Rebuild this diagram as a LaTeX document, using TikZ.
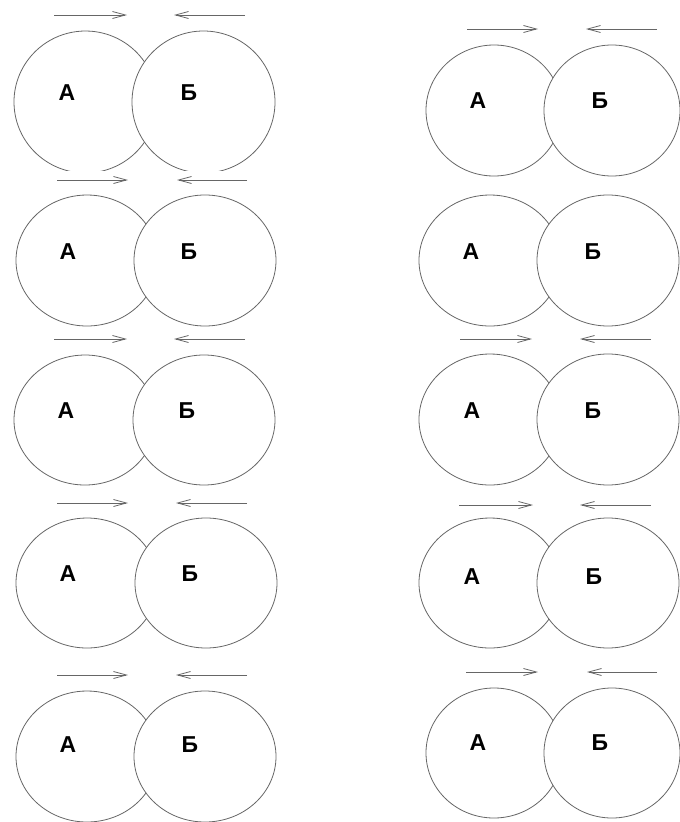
\documentclass[tikz,border=0pt]{standalone}
\usepackage{fontspec}
\setmainfont{Liberation Sans}
\usetikzlibrary{arrows.meta}
\tikzset{
  rim/.style={draw=black!60,line width=0.8pt},
  push/.style={black!60,line width=0.8pt,-{Straight Barb[length=13pt,width=7pt]}},
  lbl/.style={inner sep=0pt,font=\fontsize{23}{23}\selectfont\bfseries}
}
\begin{document}
\begin{tikzpicture}[x=1pt,y=-1pt]
\useasboundingbox (0,0) rectangle (680,822);
% pairs: name / centre A / centre B / centre y / radii / cut / labels
\foreach \n/\xa/\xb/\cy/\rx/\ry/\yc/\la/\lb/\ly in {
  L1/85.5/203.5/102/71.5/71/170/67/189/93,
  L2/87/205/260.5/71/65.5/830/68/189/252,
  L3/85/204/420/71/65/830/66/187/411,
  L4/87/206/583/71/65/830/68/190/574,
  L5/87/205/756.5/71/65.5/830/68/190/745,
  R1/494/612/110.5/68/65.5/830/478/600/101,
  R2/490/608/260.5/71/65.5/830/471/593/252,
  R3/490/608/419.5/71/65.5/830/472/593/411,
  R4/490/608/583/71/65/830/472/594/577,
  R5/494/612/753/68/65/830/478/600/743}{
  \pgfmathsetmacro\t{acos((\xb-\xa)/(2*\rx))}
  \begin{scope}
    \clip (\xa-\rx-5,\cy-\ry-5) rectangle (\xb+\rx+5,\yc);
    \draw[rim] (\xb,\cy) ellipse[x radius=\rx,y radius=\ry];
    \draw[rim] ({\xa+\rx*cos(\t)},{\cy+\ry*sin(\t)})
      arc[start angle=\t,end angle=360-\t,x radius=\rx,y radius=\ry];
  \end{scope}
  \node[lbl] (a\n) at (\la,\ly) {А};
  \node[lbl] (b\n) at (\lb,\ly) {Б};
}
% arrows over the pairs
\foreach \p/\q/\r/\s/\ay in {
  54/127/245/174/15, 57/128/247/177/180, 54/127/245/174/339,
  57/128/247/176/503, 57/128/247/176/675,
  467/538/657/586/29, 460/532/651/580/339,
  459/533/651/580/505, 466/538/657/587/672}{
  \draw[push] (\p,\ay)--(\q,\ay);
  \draw[push] (\r,\ay)--(\s,\ay);
}
\end{tikzpicture}
\end{document}
